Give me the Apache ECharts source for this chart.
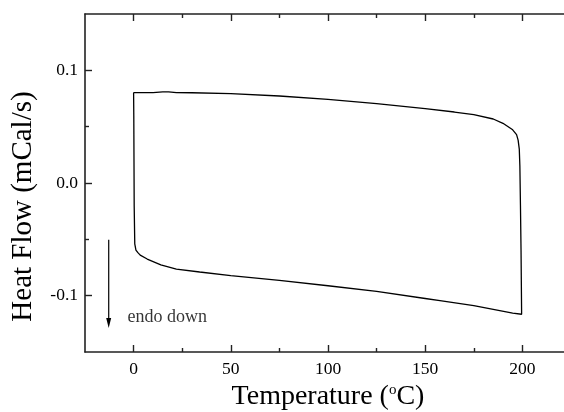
<!DOCTYPE html>
<html>
<head>
<meta charset="utf-8">
<script src="https://cdn.jsdelivr.net/npm/echarts@6/dist/echarts.min.js"></script>
<style>
  html, body { margin: 0; padding: 0; background: #fff; }
  #chart { width: 564px; height: 412px; }
</style>
</head>
<body>
<div id="chart"></div>
<script>
// ---- data ----
// upper branch, left to right, then the drop at ~200 °C
const upperTemp = [0, 5, 10, 15, 18, 22, 30, 50, 75, 100, 125, 150, 165, 175, 185, 190, 195, 197, 197.8, 198.4, 198.7, 199.0, 199.3];
const upperHF   = [0.0803, 0.0803, 0.0803, 0.0808, 0.0808, 0.0803, 0.0801, 0.0794, 0.0772, 0.0743, 0.0705, 0.0661, 0.0630, 0.0606, 0.0568, 0.0530, 0.0472, 0.0430, 0.0380, 0.0300, 0.0150, -0.0200, -0.0600];
// lower branch, right to left, then the rise at 0 °C
const lowerTemp = [199.6, 195, 175, 157.6, 150, 125, 100, 75, 50, 34, 22, 14, 7, 3.4, 2.2, 1.2, 0.6, 0.3, 0.1, 0];
const lowerHF   = [-0.1165, -0.1155, -0.1088, -0.1044, -0.1025, -0.0962, -0.0912, -0.0864, -0.0823, -0.0790, -0.0764, -0.0726, -0.0675, -0.0640, -0.0618, -0.0595, -0.0540, -0.0200, 0.0600, 0.0803];

// axis ticks
const xMajorTicks = [0, 50, 100, 150, 200];
const xMinorTicks = [25, 75, 125, 175];
const yMajorTicks = [-0.1, 0.0, 0.1];
const yMinorTicks = [-0.05, 0.05];

// annotation "endo down" with arrow
const arrowTemp = [-12.8, -12.8];
const arrowHF   = [-0.0504, -0.1242];
const noteTemp = -3.4;
const noteHF = -0.119;
const noteText = 'endo down';

const xTitle = 'Temperature (';
const yTitle = 'Heat Flow (mCal/s)';

// ---- build ----
const loop = [];
upperTemp.forEach((t, i) => loop.push([t, upperHF[i]]));
lowerTemp.forEach((t, i) => loop.push([t, lowerHF[i]]));

const FONT = 'Liberation Serif';
const AXC = '#222';

function xAxisDef(pos, ticks, len, showLine, showLabel) {
  return {
    type: 'value', position: pos, min: -25, max: 225,
    axisLine: { show: showLine, onZero: false, lineStyle: { color: AXC, width: 1.6 } },
    axisTick: { show: true, inside: true, length: len, customValues: ticks, lineStyle: { color: AXC, width: 1.4 } },
    axisLabel: showLabel ? {
      show: true, customValues: ticks, margin: 8,
      fontFamily: FONT, fontSize: 17.5, color: '#000'
    } : { show: false },
    splitLine: { show: false }
  };
}
function yAxisDef(pos, ticks, len, showLine, showLabel) {
  return {
    type: 'value', position: pos, min: -0.15, max: 0.15,
    axisLine: { show: showLine, onZero: false, lineStyle: { color: AXC, width: 1.6 } },
    axisTick: { show: true, inside: true, length: len, customValues: ticks, lineStyle: { color: AXC, width: 1.4 } },
    axisLabel: showLabel ? {
      show: true, customValues: ticks, margin: 7,
      fontFamily: FONT, fontSize: 17.5, color: '#000',
      formatter: v => (Math.abs(v) < 1e-9 ? 0 : v).toFixed(1)
    } : { show: false },
    splitLine: { show: false }
  };
}

const xBottom = xAxisDef('bottom', xMajorTicks, 7, true, true);
xBottom.name = '{t|' + xTitle + '}{s|o}{t|C)}';
xBottom.nameLocation = 'middle';
xBottom.nameGap = 28;
xBottom.nameTextStyle = {
  fontFamily: FONT, fontSize: 28, color: '#000',
  rich: {
    t: { fontFamily: FONT, fontSize: 28, lineHeight: 28, color: '#000' },
    s: { fontFamily: FONT, fontSize: 15, lineHeight: 15, color: '#000', verticalAlign: 'top' }
  }
};

const chart = echarts.init(document.getElementById('chart'), null, { renderer: 'canvas' });
chart.setOption({
  animation: false,
  backgroundColor: '#fff',
  grid: { left: 85, top: 14, width: 486, height: 338, containLabel: false, outerBoundsMode: 'none' },
  xAxis: [
    xBottom,
    xAxisDef('bottom', xMinorTicks, 4, false, false),
    xAxisDef('top', xMajorTicks, 7, true, false),
    xAxisDef('top', xMinorTicks, 4, false, false)
  ],
  yAxis: [
    yAxisDef('left', yMajorTicks, 7, true, true),
    yAxisDef('left', yMinorTicks, 4, false, false),
    yAxisDef('right', yMajorTicks, 7, true, false),
    yAxisDef('right', yMinorTicks, 4, false, false)
  ],
  graphic: [{
    type: 'text', x: 23, y: 206.5, rotation: Math.PI / 2,
    style: { text: yTitle, font: '29px "Liberation Serif"', fill: '#000', align: 'center', verticalAlign: 'middle' }
  }],
  series: [
    {
      type: 'line', data: loop, showSymbol: false, symbol: 'none',
      lineStyle: { color: '#000', width: 1.3 }, clip: false
    },
    {
      type: 'line',
      data: [
        { value: [arrowTemp[0], arrowHF[0]], symbol: 'none' },
        { value: [arrowTemp[1], arrowHF[1]], symbol: 'triangle', symbolSize: [5, 10], symbolRotate: 180 }
      ],
      showSymbol: true,
      itemStyle: { color: '#000' },
      lineStyle: { color: '#000', width: 1.2 }
    },
    {
      type: 'scatter', data: [[noteTemp, noteHF]], symbolSize: 1,
      itemStyle: { color: 'rgba(0,0,0,0)' },
      label: { show: true, position: 'right', distance: 0, formatter: noteText,
               fontFamily: FONT, fontSize: 18, color: '#000' }
    }
  ]
});
</script>
</body>
</html>
